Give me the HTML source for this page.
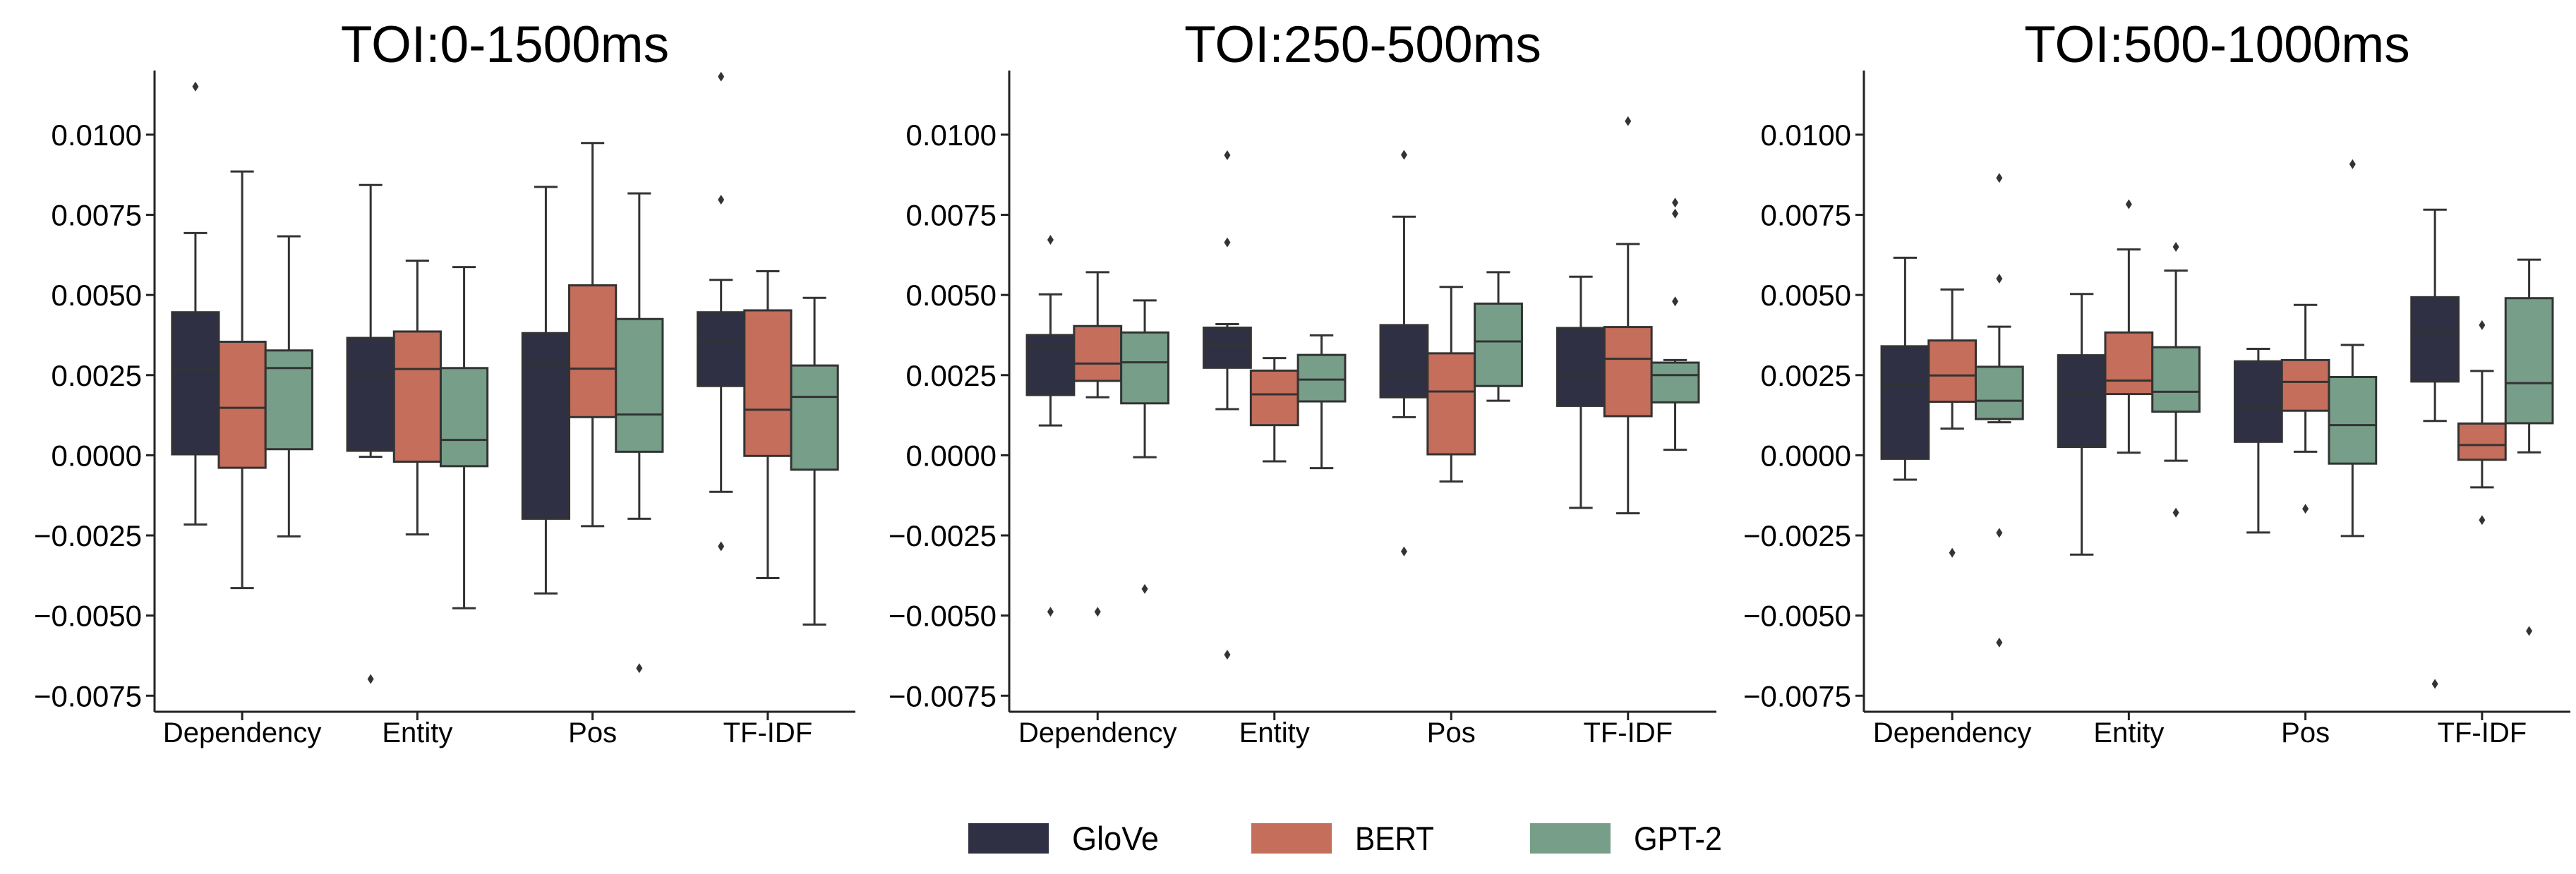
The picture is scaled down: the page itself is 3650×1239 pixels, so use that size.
<!DOCTYPE html>
<html><head><meta charset="utf-8"><style>
html,body{margin:0;padding:0;background:#fff;}
svg{display:block;font-family:"Liberation Sans",sans-serif;}
</style></head><body>
<svg id="chart" width="3650" height="1239" viewBox="0 0 3650 1239" xmlns="http://www.w3.org/2000/svg"></svg>
<script>
const categories = ["Dependency","Entity","Pos","TF-IDF"];
const models = ["GloVe","BERT","GPT-2"];
const colors = ["#2f3043","#c46e5b","#769e89"];
const panelTitles = ["TOI:0-1500ms","TOI:250-500ms","TOI:500-1000ms"];
const yTicks = [0.0100,0.0075,0.0050,0.0025,0.0000,-0.0025,-0.0050,-0.0075];
const yTickLabels = ["0.0100","0.0075","0.0050","0.0025","0.0000","\u22120.0025","\u22120.0050","\u22120.0075"];
// each box: [whiskerLow, Q1, median, Q3, whiskerHigh]
const p1Boxes = [
 [[-0.00216,0.00003,0.00267,0.00446,0.00693],[-0.00414,-0.00039,0.00148,0.00354,0.00885],[-0.00253,0.00019,0.00272,0.00327,0.00683]],
 [[-0.00005,0.00014,0.00247,0.00366,0.00843],[-0.00247,-0.0002,0.00269,0.00386,0.00607],[-0.00477,-0.00034,0.00048,0.00272,0.00587]],
 [[-0.00431,-0.00198,0.00286,0.00381,0.00837],[-0.00221,0.00119,0.0027,0.0053,0.00974],[-0.00198,0.00011,0.00127,0.00425,0.00817]],
 [[-0.00114,0.00216,0.00355,0.00446,0.00547],[-0.00383,-0.00002,0.00142,0.00452,0.00574],[-0.00528,-0.00045,0.00182,0.0028,0.00491]]
];
const p1Outliers = [
 [[0.0115],[],[]],
 [[-0.00698],[],[]],
 [[],[],[-0.00664]],
 [[0.01181,0.00797,-0.00284],[],[]]
];
const p2Boxes = [
 [[0.00093,0.00188,0.00337,0.00375,0.00502],[0.00181,0.00232,0.00286,0.00403,0.00571],[-0.00006,0.00162,0.0029,0.00383,0.00483]],
 [[0.00144,0.00273,0.00343,0.00398,0.00409],[-0.00019,0.00094,0.0019,0.00264,0.00303],[-0.0004,0.00168,0.00236,0.00313,0.00374]],
 [[0.00119,0.00181,0.00252,0.00406,0.00744],[-0.00082,0.00003,0.00199,0.00318,0.00525],[0.0017,0.00216,0.00355,0.00473,0.00571]],
 [[-0.00164,0.00154,0.00252,0.00397,0.00557],[-0.00181,0.00122,0.00301,0.004,0.00659],[0.00017,0.00165,0.0025,0.00289,0.00297]]
];
const p2Outliers = [
 [[0.00672,-0.00488],[-0.00488],[-0.00417]],
 [[0.00936,0.00664,-0.00622],[],[]],
 [[0.00937,-0.003],[],[]],
 [[],[0.01042],[0.00788,0.00754,0.0048]]
];
const p3Boxes = [
 [[-0.00076,-0.00011,0.00222,0.0034,0.00616],[0.00083,0.00167,0.00249,0.00358,0.00517],[0.00103,0.00113,0.0017,0.00276,0.00401]],
 [[-0.0031,0.00026,0.00191,0.00312,0.00503],[0.00008,0.00191,0.00233,0.00383,0.00642],[-0.00017,0.00136,0.00198,0.00337,0.00576]],
 [[-0.00241,0.00042,0.0015,0.00293,0.00332],[0.00011,0.00139,0.00229,0.00297,0.00469],[-0.00252,-0.00026,0.00094,0.00244,0.00344]],
 [[0.00107,0.0023,0.00385,0.00493,0.00766],[-0.001,-0.00014,0.00032,0.00099,0.00263],[0.00009,0.001,0.00225,0.0049,0.0061]]
];
const p3Outliers = [
 [[],[-0.00304],[0.00865,0.00551,-0.00242,-0.00584]],
 [[],[0.00783],[0.0065,-0.00179]],
 [[],[-0.00167],[0.00908]],
 [[-0.00713],[0.00406,-0.00202],[-0.00548]]
];
const panelBoxes=[p1Boxes,p2Boxes,p3Boxes];
const panelOutliers=[p1Outliers,p2Outliers,p3Outliers];

const NS="http://www.w3.org/2000/svg";
const svg=document.getElementById('chart');
function mk(tag,attrs,parent){const e=document.createElementNS(NS,tag);for(const k in attrs)e.setAttribute(k,attrs[k]);(parent||svg).appendChild(e);return e;}
const yMin=-0.008,yMax=0.012,plotTop=100,plotBottom=1009;
function yScale(v){return plotBottom-(v-yMin)/(yMax-yMin)*(plotBottom-plotTop);}
const panelX=[[219,1212],[1430,2432],[2641,3642]];
const edge="#333333";

panelX.forEach((px,pi)=>{
  const g=mk('g',{});
  
  
  const x0=px[0],x1=px[1],cw=(x1-x0)/categories.length;
  function xCenter(ci){return x0+cw*(ci+0.5);}
  const t=mk('text',{x:(x0+x1)/2,y:88,'font-size':73,'text-anchor':'middle',fill:'#000'},g);
  t.textContent=panelTitles[pi];
  
  
  const ya=mk('line',{x1:x0,y1:plotTop,x2:x0,y2:plotBottom,stroke:'#222','stroke-width':3},g);
  
  
  const xa=mk('line',{x1:x0,y1:plotBottom,x2:x1,y2:plotBottom,stroke:'#222','stroke-width':3},g);
  
  
  yTicks.forEach((v,i)=>{
    const y=yScale(v);
    mk('line',{x1:x0-12,y1:y,x2:x0,y2:y,stroke:'#222','stroke-width':3},g);
    const l=mk('text',{x:x0-18,y:y+15,'font-size':42,'text-anchor':'end',fill:'#000'},g);
    l.textContent=yTickLabels[i];
    
    
  });
  categories.forEach((c,ci)=>{
    const cx=xCenter(ci);
    mk('line',{x1:cx,y1:plotBottom,x2:cx,y2:plotBottom+12,stroke:'#222','stroke-width':3},g);
    const l=mk('text',{x:cx,y:1052,'font-size':40,'text-anchor':'middle',fill:'#000'},g);
    l.textContent=c;
    
    
    const bw=cw*0.8/3;
    models.forEach((m,mi)=>{
      const b=panelBoxes[pi][ci][mi];
      const bx=cx-cw*0.4+bw*mi;
      const mid=bx+bw/2;
      const bg=mk('g',{},g);
      
      
      mk('line',{x1:mid,y1:yScale(b[0]),x2:mid,y2:yScale(b[1]),stroke:edge,'stroke-width':3},bg);
      mk('line',{x1:mid,y1:yScale(b[3]),x2:mid,y2:yScale(b[4]),stroke:edge,'stroke-width':3},bg);
      mk('line',{x1:mid-bw/4,y1:yScale(b[0]),x2:mid+bw/4,y2:yScale(b[0]),stroke:edge,'stroke-width':3},bg);
      mk('line',{x1:mid-bw/4,y1:yScale(b[4]),x2:mid+bw/4,y2:yScale(b[4]),stroke:edge,'stroke-width':3},bg);
      mk('rect',{x:bx,y:yScale(b[3]),width:bw,height:yScale(b[1])-yScale(b[3]),fill:colors[mi],stroke:edge,'stroke-width':3},bg);
      mk('line',{x1:bx,y1:yScale(b[2]),x2:bx+bw,y2:yScale(b[2]),stroke:edge,'stroke-width':3},bg);
      panelOutliers[pi][ci][mi].forEach(v=>{
        const y=yScale(v);
        const d=mk('polygon',{points:`${mid},${y-7} ${mid+4.5},${y} ${mid},${y+7} ${mid-4.5},${y}`,fill:edge},bg);
        
        
      });
    });
  });
});

// legend
const legX=[1372,1773,2168];
const lg=mk('g',{});


models.forEach((m,i)=>{
  const eg=mk('g',{},lg);
  
  
  mk('rect',{x:legX[i],y:1167,width:114,height:43,fill:colors[i]},eg);
  const t=mk('text',{x:legX[i]+147,y:1205,'font-size':47,fill:'#000',textLength:i===0?123:(i===1?112:125),lengthAdjust:'spacingAndGlyphs'},eg);
  t.textContent=m;
});
</script>
</body></html>
